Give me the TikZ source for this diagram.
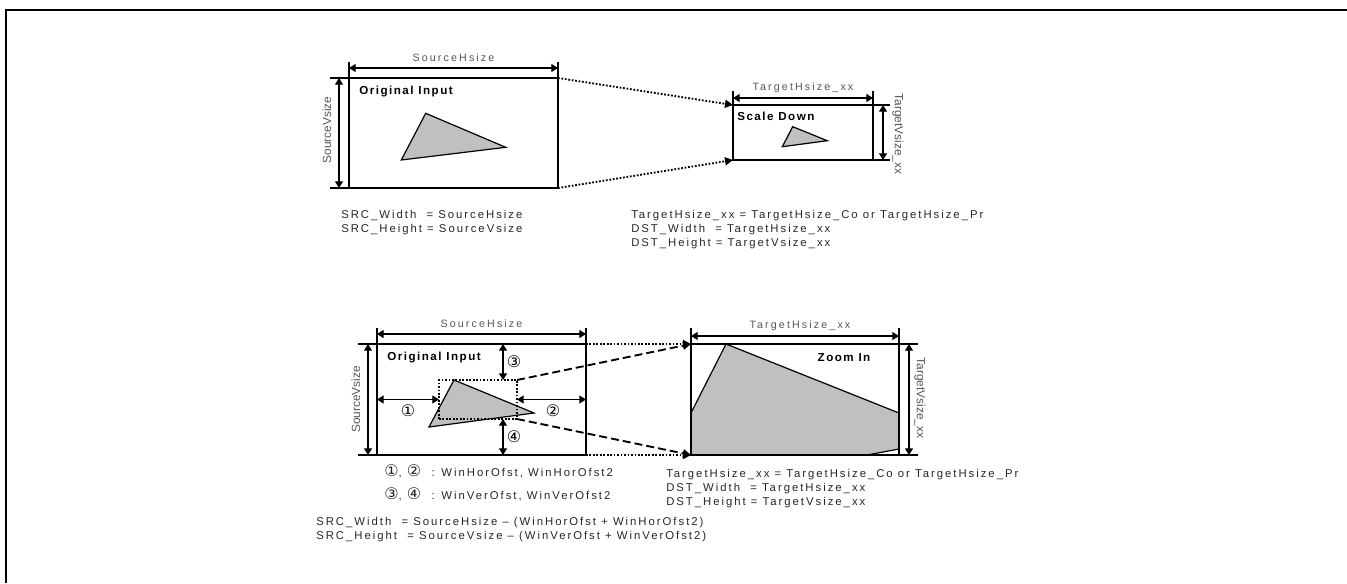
\documentclass[tikz,border=0pt]{standalone}
\usepackage{fontspec}
\setmainfont{Liberation Sans}
\newfontfamily\formfont[LetterSpace=17.5]{Liberation Sans}
\newfontfamily\dimfont[LetterSpace=20]{Liberation Sans}
\newfontfamily\vdimfont{Liberation Sans}
\newfontfamily\titlefont[LetterSpace=13]{Liberation Sans}
\newfontfamily\circfont{DejaVu Sans}
\usepackage{tikz}
\usetikzlibrary{arrows.meta,calc,fit}
\definecolor{dimgray}{HTML}{555555}
\definecolor{objgray}{HTML}{C0C0C0}
\newcommand{\cnum}[1]{{\circfont\fontsize{12}{12}\selectfont #1}}

\begin{document}
\begin{tikzpicture}[x=0.75pt,y=-0.75pt,
  imgbox/.style={draw,line width=1.1pt,inner sep=0pt,outer sep=0pt},
  winbox/.style={draw,line width=1.4pt,dash pattern=on 1.3pt off 1.3pt,inner sep=0pt,outer sep=0pt},
  dimline/.style={line width=0.9pt},
  dimarrow/.style={line width=0.9pt,{Triangle[length=5pt,width=6pt]}-{Triangle[length=5pt,width=6pt]}},
  dotlink/.style={line width=1.4pt,dash pattern=on 1.3pt off 1.3pt,-{Triangle[length=6pt,width=6pt]}},
  dashlink/.style={line width=1.4pt,dash pattern=on 6pt off 3pt,-{Triangle[length=6pt,width=6pt]}},
  objfill/.style={draw,line width=0.9pt,fill=objgray},
  dimlabel/.style={font=\dimfont\fontsize{8}{9}\selectfont,text=dimgray,inner sep=0pt},
  vdimlabel/.style={font=\vdimfont\fontsize{8.9}{9}\selectfont,text=dimgray,inner sep=0pt},
  boxtitle/.style={font=\titlefont\bfseries\fontsize{8.7}{10}\selectfont,inner sep=0pt},
  formula/.style={font=\formfont\fontsize{8.5}{10.5}\selectfont,align=left,anchor=north west,inner sep=0pt,text=black!85},
  numlabel/.style={font=\circfont\fontsize{12}{12}\selectfont,inner sep=0pt}]
  \useasboundingbox (0,0) rectangle (1347,583);
  \draw[line width=1.5pt] (6,583) |- (1347,9.5);

  % scale down
  \draw[objfill] (425.7,113.3) -- (505.7,147.3) -- (401.3,160) -- cycle;
  \draw[objfill] (792.7,126.7) -- (827.3,140.7) -- (782.3,146.7) -- cycle;
  \node[imgbox,fit={(349,78) (558,188)}] (src1) {};
  \node[imgbox,fit={(733,105) (873,160)}] (dst1) {};
  \node[boxtitle,anchor=west] (src1t) at (359,92) {Original Input};
  \node[boxtitle,anchor=west] (dst1t) at (737,116) {Scale Down};

  \draw[dimline] (src1.north west) -- ++(0,-16);
  \draw[dimline] (src1.north east) -- ++(0,-16);
  \draw[dimarrow] ($(src1.north west)+(0,-10)$) -- ($(src1.north east)+(0,-10)$);
  \node[dimlabel] (src1h) at ($(src1.north)+(0,-20)$) {SourceHsize};
  \draw[dimline] (src1.north west) -- ++(-19,0);
  \draw[dimline] (src1.south west) -- ++(-19,0);
  \draw[dimarrow] ($(src1.north west)+(-10,0)$) -- ($(src1.south west)+(-10,0)$);
  \node[vdimlabel,rotate=90] (src1v) at ($(src1.west)+(-22,-3)$) {SourceVsize};

  \draw[dimline] (dst1.north west) -- ++(0,-14);
  \draw[dimline] (dst1.north east) -- ++(0,-14);
  \draw[dimarrow] ($(dst1.north west)+(0,-7)$) -- ($(dst1.north east)+(0,-7)$);
  \node[dimlabel] (dst1h) at ($(dst1.north)+(0,-17)$) {TargetHsize\_xx};
  \draw[dimline] (dst1.north east) -- ++(17,0);
  \draw[dimline] (dst1.south east) -- ++(17,0);
  \draw[dimarrow] ($(dst1.north east)+(10,0)$) -- ($(dst1.south east)+(10,0)$);
  \node[vdimlabel,rotate=-90] (dst1v) at ($(dst1.east)+(25,1.5)$) {TargetVsize\_xx};

  \draw[dotlink] (src1.north east) -- (dst1.north west);
  \draw[dotlink] (src1.south east) -- (dst1.south west);

  \node[formula] (src1f) at (341,210.5) {SRC\_Width\ \ = SourceHsize\\SRC\_Height = SourceVsize};
  \node[formula] (dst1f) at (631,210.5) {TargetHsize\_xx = TargetHsize\_Co or TargetHsize\_Pr\\
    DST\_Width\ \ = TargetHsize\_xx\\DST\_Height = TargetVsize\_xx};

  % zoom in
  \draw[objfill] (454,380) -- (534,413) -- (429,427) -- cycle;
  \draw[objfill] (691,413) -- (726,344) -- (899,413) -- (899,449) -- (867,455) -- (691,455) -- cycle;
  \node[imgbox,fit={(377,344) (586,455)}] (src2) {};
  \node[imgbox,fit={(691,344) (899,455)}] (dst2) {};
  \node[winbox,fit={(439,380) (517,419)}] (win) {};
  \node[boxtitle,anchor=west] (src2t) at (387,358) {Original Input};
  \node[boxtitle] (dst2t) at (844,358) {Zoom In};

  \draw[dimline] (src2.north west) -- ++(0,-16);
  \draw[dimline] (src2.north east) -- ++(0,-16);
  \draw[dimarrow] ($(src2.north west)+(0,-10)$) -- ($(src2.north east)+(0,-10)$);
  \node[dimlabel] (src2h) at ($(src2.north)+(0,-20)$) {SourceHsize};
  \draw[dimline] (src2.north west) -- ++(-19,0);
  \draw[dimline] (src2.south west) -- ++(-19,0);
  \draw[dimarrow] ($(src2.north west)+(-9,0)$) -- ($(src2.south west)+(-9,0)$);
  \node[vdimlabel,rotate=90] (src2v) at ($(src2.west)+(-21,0)$) {SourceVsize};

  \draw[dimline] (dst2.north west) -- ++(0,-16);
  \draw[dimline] (dst2.north east) -- ++(0,-16);
  \draw[dimarrow] ($(dst2.north west)+(0,-8)$) -- ($(dst2.north east)+(0,-8)$);
  \node[dimlabel] (dst2h) at ($(dst2.north)+(5,-18)$) {TargetHsize\_xx};
  \draw[dimline] (dst2.north east) -- ++(19,0);
  \draw[dimline] (dst2.south east) -- ++(19,0);
  \draw[dimarrow] ($(dst2.north east)+(10,0)$) -- ($(dst2.south east)+(10,0)$);
  \node[vdimlabel,rotate=-90] (dst2v) at ($(dst2.east)+(21,-1.5)$) {TargetVsize\_xx};

  % window offsets
  \draw[dimarrow] (src2.west |- win.west) -- (win.west);
  \draw[dimarrow] (win.east) -- (src2.east |- win.east);
  \draw[dimarrow] (src2.north -| 503,0) -- (win.north -| 503,0);
  \draw[dimarrow] (win.south -| 503,0) -- (src2.south -| 503,0);
  \node[numlabel] (off1) at (408,411) {①};
  \node[numlabel] (off2) at (553,411) {②};
  \node[numlabel] (off3) at (514,362) {③};
  \node[numlabel] (off4) at (514,437) {④};

  \draw[dotlink] (src2.north east) -- (dst2.north west);
  \draw[dotlink] (src2.south east) -- (dst2.south west);
  \draw[dashlink] (win.north east) -- (dst2.north west);
  \draw[dashlink] (win.south east) -- (dst2.south west);

  \node[formula,anchor=west] (hofs) at (384,471) {\cnum{①}, \cnum{②}\ \ : WinHorOfst, WinHorOfst2};
  \node[formula,anchor=west] (vofs) at (384,494) {\cnum{③}, \cnum{④}\ \ : WinVerOfst, WinVerOfst2};
  \node[formula] (dst2f) at (666,469.5) {TargetHsize\_xx = TargetHsize\_Co or TargetHsize\_Pr\\
    DST\_Width\ \ = TargetHsize\_xx\\DST\_Height = TargetVsize\_xx};
  \node[formula] (src2f) at (316,517.5)
    {SRC\_Width\ \ = SourceHsize \textendash{} (WinHorOfst + WinHorOfst2)\\
     SRC\_Height\ \ = SourceVsize \textendash{} (WinVerOfst + WinVerOfst2)};
\end{tikzpicture}
\end{document}
